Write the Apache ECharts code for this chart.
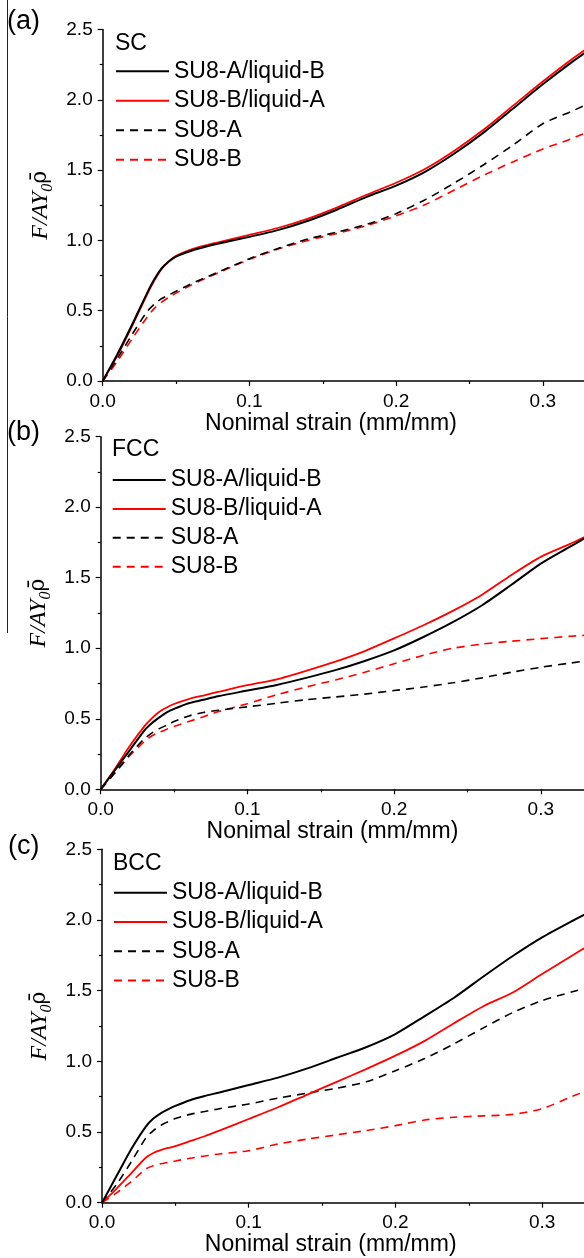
<!DOCTYPE html>
<html>
<head>
<meta charset="utf-8">
<script src="https://cdn.jsdelivr.net/npm/echarts@6/dist/echarts.min.js"></script>
<style>
html,body{margin:0;padding:0;background:#fff;}
#chart{width:584px;height:1258px;}
</style>
</head>
<body>
<div id="chart"></div>
<script>
// ---- Data ----
const strain = [0, 0.01, 0.02, 0.03, 0.035, 0.04, 0.045, 0.05, 0.06, 0.07, 0.08, 0.1, 0.12, 0.14, 0.16, 0.18, 0.2, 0.22, 0.24, 0.26, 0.28, 0.3, 0.32, 0.335];

const seriesNames = ['SU8-A/liquid-B', 'SU8-B/liquid-A', 'SU8-A', 'SU8-B'];
const panelLabels = ['(a)', '(b)', '(c)'];
const panelTitles = ['SC', 'FCC', 'BCC'];
const xTickLabels = ['0.0', '0.1', '0.2', '0.3'];
const xAxisTitle = 'Nonimal strain (mm/mm)';

// Panel (a) SC
const scSU8A_liqB = [0, 0.19, 0.40, 0.62, 0.72, 0.80, 0.85, 0.885, 0.925, 0.955, 0.98, 1.025, 1.075, 1.14, 1.22, 1.31, 1.39, 1.49, 1.62, 1.77, 1.94, 2.11, 2.27, 2.38];
const scSU8B_liqA = [0, 0.18, 0.39, 0.61, 0.71, 0.795, 0.85, 0.89, 0.935, 0.965, 0.99, 1.04, 1.09, 1.155, 1.235, 1.325, 1.41, 1.51, 1.64, 1.79, 1.96, 2.13, 2.29, 2.40];
const scSU8A = [0, 0.16, 0.33, 0.49, 0.545, 0.585, 0.612, 0.638, 0.69, 0.735, 0.78, 0.87, 0.945, 1.01, 1.06, 1.115, 1.19, 1.29, 1.41, 1.54, 1.68, 1.83, 1.92, 1.99];
const scSU8B = [0, 0.14, 0.30, 0.45, 0.515, 0.56, 0.595, 0.625, 0.68, 0.73, 0.775, 0.865, 0.94, 1.0, 1.05, 1.105, 1.175, 1.255, 1.36, 1.465, 1.56, 1.65, 1.725, 1.79];

// Panel (b) FCC
const fccSU8A_liqB = [0, 0.14, 0.28, 0.42, 0.47, 0.51, 0.545, 0.57, 0.61, 0.635, 0.66, 0.70, 0.74, 0.79, 0.845, 0.91, 0.985, 1.08, 1.185, 1.305, 1.45, 1.60, 1.72, 1.81];
const fccSU8B_liqA = [0, 0.15, 0.31, 0.45, 0.505, 0.55, 0.58, 0.605, 0.64, 0.665, 0.69, 0.738, 0.78, 0.84, 0.905, 0.98, 1.07, 1.163, 1.265, 1.38, 1.52, 1.648, 1.74, 1.815];
const fccSU8A = [0, 0.12, 0.25, 0.36, 0.40, 0.43, 0.455, 0.48, 0.52, 0.545, 0.56, 0.585, 0.61, 0.635, 0.655, 0.675, 0.70, 0.725, 0.755, 0.79, 0.83, 0.865, 0.895, 0.915];
const fccSU8B = [0, 0.12, 0.24, 0.34, 0.38, 0.405, 0.425, 0.445, 0.48, 0.515, 0.55, 0.607, 0.67, 0.725, 0.775, 0.83, 0.89, 0.95, 1.0, 1.03, 1.05, 1.068, 1.085, 1.095];

// Panel (c) BCC
const bccSU8A_liqB = [0, 0.19, 0.38, 0.54, 0.595, 0.632, 0.66, 0.685, 0.725, 0.755, 0.78, 0.833, 0.885, 0.95, 1.025, 1.10, 1.193, 1.32, 1.45, 1.60, 1.745, 1.877, 1.99, 2.07];
const bccSU8B_liqA = [0, 0.10, 0.21, 0.32, 0.352, 0.372, 0.387, 0.40, 0.435, 0.47, 0.51, 0.592, 0.675, 0.765, 0.855, 0.945, 1.04, 1.145, 1.27, 1.39, 1.487, 1.618, 1.745, 1.84];
const bccSU8A = [0, 0.13, 0.29, 0.46, 0.51, 0.547, 0.573, 0.595, 0.625, 0.645, 0.665, 0.698, 0.74, 0.775, 0.81, 0.855, 0.934, 1.02, 1.124, 1.237, 1.345, 1.43, 1.49, 1.53];
const bccSU8B = [0, 0.07, 0.15, 0.24, 0.262, 0.275, 0.285, 0.295, 0.315, 0.33, 0.345, 0.368, 0.415, 0.45, 0.48, 0.51, 0.545, 0.585, 0.605, 0.614, 0.625, 0.665, 0.75, 0.81];

const panelValues = [
  [scSU8A_liqB, scSU8B_liqA, scSU8A, scSU8B],
  [fccSU8A_liqB, fccSU8B_liqA, fccSU8A, fccSU8B],
  [bccSU8A_liqB, bccSU8B_liqA, bccSU8A, bccSU8B]
];

// ---- Styles / layout ----
const SANS = '"Liberation Sans", Arial, sans-serif';
const SERIF = '"Liberation Serif", "Times New Roman", serif';
const seriesStyles = [
  { color: '#000000', width: 2, type: 'solid' },
  { color: '#ff0000', width: 1.8, type: 'solid' },
  { color: '#000000', width: 1.6, type: [8, 6] },
  { color: '#ff0000', width: 1.6, type: [8, 6] }
];
const grids = [
  { left: 102.7, top: 29.5, width: 513.45, height: 351.5, outerBoundsMode: 'none', containLabel: false },
  { left: 100.7, top: 436.7, width: 513.45, height: 352.6, outerBoundsMode: 'none', containLabel: false },
  { left: 102, top: 849.3, width: 513.45, height: 353.4, outerBoundsMode: 'none', containLabel: false }
];
const xNamePad = [57, 50, 56];
const panelLabelPos = [[7, 8], [7, 419.5], [8, 833.5]];
const panelTitlePos = [[115, 32.5], [112, 438.5], [113, 851.8]];
const legendPos = [[115, 59.8, 6.5], [111.7, 468.5, 5.9], [113, 881.2, 6.3]];

const option = {
  animation: false,
  backgroundColor: '#ffffff',
  grid: grids,
  title: [],
  legend: [],
  xAxis: [],
  yAxis: [],
  series: [],
  graphic: [{
    type: 'line',
    shape: { x1: 7.5, y1: 0, x2: 7.5, y2: 633 },
    style: { stroke: '#222', lineWidth: 1 }
  }]
};

for (let p = 0; p < 3; p++) {
  option.title.push({
    text: panelLabels[p], left: panelLabelPos[p][0], top: panelLabelPos[p][1], padding: 0,
    textStyle: { fontFamily: SANS, fontSize: 27, fontWeight: 'normal', color: '#000' }
  });
  option.title.push({
    text: panelTitles[p], left: panelTitlePos[p][0], top: panelTitlePos[p][1], padding: 0,
    textStyle: { fontFamily: SANS, fontSize: 23, fontWeight: 'normal', color: '#000' }
  });
  option.legend.push({
    data: seriesNames,
    orient: 'vertical',
    left: legendPos[p][0], top: legendPos[p][1], itemGap: legendPos[p][2],
    padding: 0,
    itemWidth: 53, itemHeight: 14,
    selectedMode: false,
    itemStyle: { opacity: 0, borderWidth: 0 },
    textStyle: { fontFamily: SANS, fontSize: 23, lineHeight: 23, color: '#000' }
  });
  option.xAxis.push({
    type: 'value', gridIndex: p, min: 0, max: 0.35, interval: 0.1,
    name: xAxisTitle, nameLocation: 'middle', nameGap: 28,
    nameTextStyle: { fontFamily: SANS, fontSize: 23, color: '#000', padding: [0, xNamePad[p], 0, 0] },
    axisLine: { show: true, onZero: false, lineStyle: { color: '#000', width: 1.5 } },
    axisTick: { show: true, inside: false, length: 5, lineStyle: { color: '#000', width: 1.2 } },
    minorTick: { show: true, splitNumber: 2, length: 3, lineStyle: { color: '#000', width: 1.2 } },
    splitLine: { show: false },
    axisLabel: {
      fontFamily: SANS, fontSize: 19, color: '#000', margin: 11,
      formatter: v => { const i = Math.round(v * 10); return (Math.abs(v * 10 - i) < 1e-6 && i < xTickLabels.length) ? xTickLabels[i] : ''; }
    }
  });
  option.yAxis.push({
    type: 'value', gridIndex: p, min: 0, max: 2.5, interval: 0.5,
    name: '{i|F/AY}{s|0}{r|ρ\u0304}', nameLocation: 'middle', nameGap: 42,
    nameTextStyle: {
      color: '#000',
      rich: {
        i: { fontFamily: SERIF, fontStyle: 'italic', fontSize: 24, lineHeight: 30, color: '#000' },
        s: { fontFamily: SERIF, fontStyle: 'italic', fontSize: 16, lineHeight: 30, verticalAlign: 'bottom', padding: [12, 0, 0, 0], color: '#000' },
        r: { fontFamily: '"DejaVu Serif", serif', fontSize: 22, lineHeight: 30, color: '#000' }
      }
    },
    axisLine: { show: true, onZero: false, lineStyle: { color: '#000', width: 1.5 } },
    axisTick: { show: true, inside: false, length: 5, lineStyle: { color: '#000', width: 1.2 } },
    minorTick: { show: true, splitNumber: 2, length: 3, lineStyle: { color: '#000', width: 1.2 } },
    splitLine: { show: false },
    axisLabel: { fontFamily: SANS, fontSize: 19, color: '#000', margin: 10, formatter: v => v.toFixed(1) }
  });
  for (let k = 0; k < 4; k++) {
    const st = seriesStyles[k];
    option.series.push({
      name: seriesNames[k], type: 'line', xAxisIndex: p, yAxisIndex: p,
      data: strain.map((s, i) => [s, panelValues[p][k][i]]),
      symbol: 'none', showSymbol: false, smooth: 0.25, clip: true,
      lineStyle: { color: st.color, width: st.width, type: st.type },
      itemStyle: { color: st.color },
      z: 4 - k
    });
  }
}

const chart = echarts.init(document.getElementById('chart'), null, { renderer: 'canvas' });
chart.setOption(option);
</script>
</body>
</html>
